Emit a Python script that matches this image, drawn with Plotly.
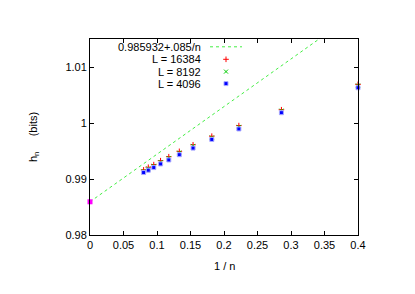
import plotly.graph_objects as go

# ---- data ----
inv_n = [0.4, 0.2857, 0.2222, 0.1818, 0.1538, 0.1333, 0.1176, 0.1053, 0.0952, 0.0870, 0.0800]
h_L16384 = [1.0069, 1.00237, 0.99954, 0.99765, 0.99611, 0.99494, 0.99398, 0.99327, 0.99257, 0.99210, 0.99163]
h_L8192 = [1.0067, 1.00220, 0.99930, 0.99740, 0.99590, 0.99470, 0.99375, 0.99302, 0.99235, 0.99188, 0.99142]
h_L4096 = [1.0063, 1.00184, 0.99894, 0.99706, 0.99552, 0.99434, 0.99340, 0.99269, 0.99204, 0.99157, 0.99115]
fit_intercept = 0.985932
fit_slope = 0.085
fit_x = [0.0, 0.4]
fit_y = [fit_intercept + fit_slope * x for x in fit_x]

x_ticks = [0, 0.05, 0.1, 0.15, 0.2, 0.25, 0.3, 0.35, 0.4]
x_ticktext = ["0", "0.05", "0.1", "0.15", "0.2", "0.25", "0.3", "0.35", "0.4"]
y_ticks = [0.98, 0.99, 1.0, 1.01]
y_ticktext = ["0.98", "0.99", "1", "1.01"]

legend_labels = ["0.985932+.085/n", "L = 16384", "L = 8192", "L = 4096"]

FONT = "Liberation Sans, Arial, sans-serif"
GREEN_LINE = "#44ee44"
RED = "#ff0000"
GREEN = "#00cc00"
BLUE = "#0000ff"
MAGENTA = "#ff00ff"

W, H = 415, 294
L, R, T, B = 90, 57, 39, 59

fig = go.Figure()

fig.add_trace(go.Scatter(x=fit_x, y=fit_y, mode="lines",
                         line=dict(color=GREEN_LINE, width=1, dash="dot"),
                         showlegend=False, hoverinfo="skip"))
fig.add_trace(go.Scatter(x=inv_n, y=h_L16384, mode="markers", cliponaxis=False,
                         marker=dict(symbol="cross-thin", size=4, color=RED,
                                     line=dict(color=RED, width=1)),
                         showlegend=False))
fig.add_trace(go.Scatter(x=inv_n, y=h_L8192, mode="markers", cliponaxis=False,
                         marker=dict(symbol="x-thin", size=4, color=GREEN,
                                     line=dict(color=GREEN, width=1)),
                         showlegend=False))
fig.add_trace(go.Scatter(x=inv_n, y=h_L4096, mode="markers", cliponaxis=False,
                         marker=dict(symbol="square", size=4, color=BLUE,
                                     line=dict(color="#aaaaff", width=1)),
                         showlegend=False))
fig.add_trace(go.Scatter(x=[0.0], y=[fit_intercept], mode="markers", cliponaxis=False,
                         marker=dict(symbol="square", size=5, color=MAGENTA,
                                     line=dict(width=0)),
                         showlegend=False))

# ---- gnuplot-style key (text right-aligned, sample on the right) ----
key_y_px = [46.8, 59.3, 71.6, 83.6]
def py(ypx):
    return (H - B - ypx) / (H - T - B)
def px(xpx):
    return (xpx - L) / (W - L - R)

annotations = []
for lab, ypx in zip(legend_labels, key_y_px):
    annotations.append(dict(x=px(203), y=py(ypx), xref="paper", yref="paper",
                            text=lab, showarrow=False, xanchor="right", yanchor="middle",
                            font=dict(family=FONT, size=11, color="black")))

# axis titles
annotations.append(dict(x=px(224), y=py(265.5), xref="paper", yref="paper",
                        text="1 / n", showarrow=False, xanchor="center", yanchor="middle",
                        font=dict(family=FONT, size=11, color="black")))
annotations.append(dict(x=px(34), y=py(137), xref="paper", yref="paper",
                        text="h<sub>n</sub>     (bits)",
                        showarrow=False, textangle=-90,
                        xanchor="center", yanchor="middle",
                        font=dict(family=FONT, size=11, color="black")))

shapes = [dict(type="line", xref="paper", yref="paper",
               x0=px(210), x1=px(242), y0=py(key_y_px[0]), y1=py(key_y_px[0]),
               line=dict(color=GREEN_LINE, width=1, dash="dot"))]

# key markers on an invisible overlay axis in pixel units
key_marker_x = [226, 226, 226]
fig.add_trace(go.Scatter(x=[key_marker_x[0]], y=[key_y_px[1]], xaxis="x2", yaxis="y2",
                         mode="markers", marker=dict(symbol="cross-thin", size=4, color=RED,
                                                     line=dict(color=RED, width=1)),
                         showlegend=False, hoverinfo="skip"))
fig.add_trace(go.Scatter(x=[key_marker_x[1]], y=[key_y_px[2]], xaxis="x2", yaxis="y2",
                         mode="markers", marker=dict(symbol="x-thin", size=4, color=GREEN,
                                                     line=dict(color=GREEN, width=1)),
                         showlegend=False, hoverinfo="skip"))
fig.add_trace(go.Scatter(x=[key_marker_x[2]], y=[key_y_px[3]], xaxis="x2", yaxis="y2",
                         mode="markers", marker=dict(symbol="square", size=4, color=BLUE,
                                                     line=dict(color="#aaaaff", width=1)),
                         showlegend=False, hoverinfo="skip"))

axis_common = dict(showgrid=False, zeroline=False, showline=True, linecolor="black",
                   linewidth=1, mirror="ticks", ticks="inside", ticklen=4,
                   tickcolor="black", tickwidth=1,
                   tickfont=dict(family=FONT, size=11, color="black"))

fig.update_layout(
    width=W, height=H,
    margin=dict(l=L, r=R, t=T, b=B, pad=0),
    paper_bgcolor="white", plot_bgcolor="white",
    xaxis=dict(range=[0, 0.4], tickvals=x_ticks, ticktext=x_ticktext, **axis_common),
    yaxis=dict(range=[0.98, 1.015], tickvals=y_ticks, ticktext=y_ticktext, **axis_common),
    xaxis2=dict(range=[L, W - R], overlaying="x", visible=False, fixedrange=True),
    yaxis2=dict(range=[H - B, T], overlaying="y", visible=False, fixedrange=True),
    annotations=annotations,
    shapes=shapes,
    showlegend=False,
)

fig.write_html("out.html", config={"displayModeBar": False},
               post_script="document.body.style.margin='0';document.body.style.overflow='hidden';")
